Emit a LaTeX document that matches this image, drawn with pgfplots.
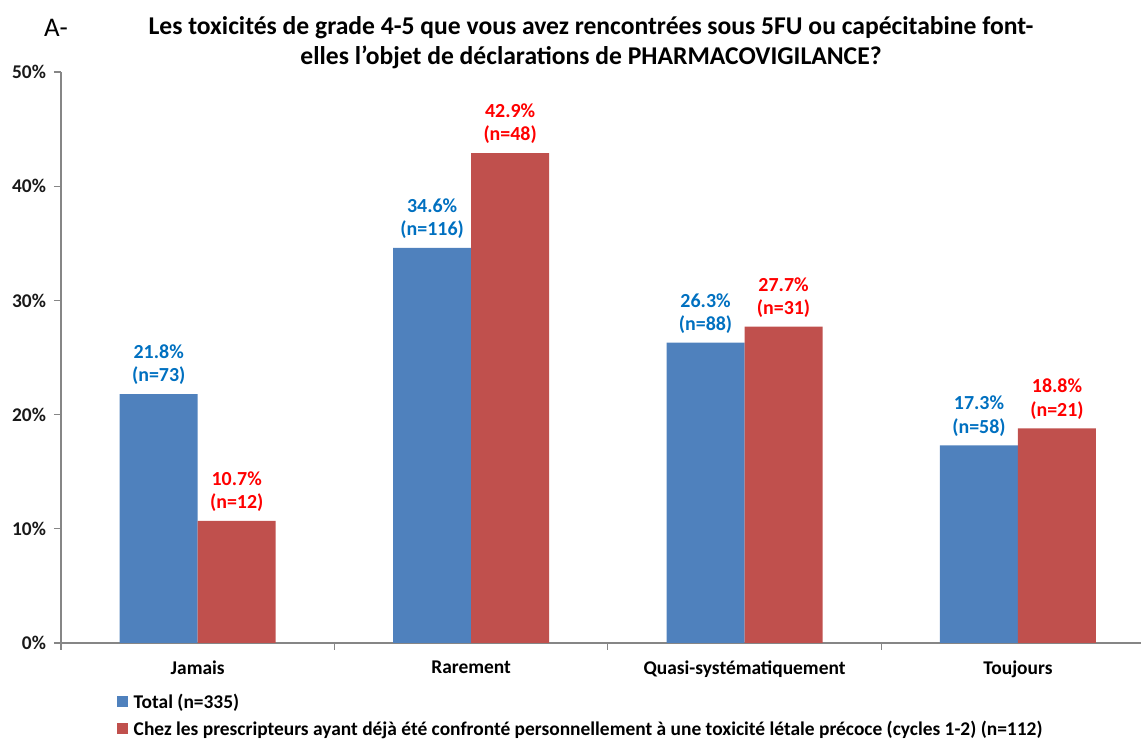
\documentclass[border=0pt]{standalone}
\usepackage{fontspec}
\setmainfont{Carlito}
\usepackage{pgfplots}
\pgfplotsset{compat=1.18}
\usetikzlibrary{calc}
\definecolor{barblue}{HTML}{4F81BD}
\definecolor{barred}{HTML}{C0504D}
\definecolor{lblblue}{HTML}{0070C0}
\definecolor{lblred}{HTML}{FF0000}
\definecolor{axgray}{HTML}{868686}
\begin{document}
\begin{tikzpicture}
\begin{axis}[
  scale only axis,
  width=1080bp, height=571bp,
  xmin=-0.5, xmax=3.45, ymin=0, ymax=50,
  axis x line*=bottom, axis y line*=left,
  axis line style={draw=axgray, line width=2.4bp, -},
  tick style={draw=axgray, line width=1.2bp},
  tick align=outside, major tick length=7bp,
  ytick={0,10,20,30,40,50},
  yticklabels={0\%,10\%,20\%,30\%,40\%,50\%},
  yticklabel style={font=\bfseries\fontsize{19.5}{19.5}\selectfont, text=black!90, xshift=-4.5bp},
  xtick={-0.5,0.5,1.5,2.5},
  xticklabels={},
  extra x ticks={0,1,2,3},
  extra x tick labels={Jamais,Rarement,Quasi-systématiquement,Toujours},
  extra x tick style={major tick length=0pt, xticklabel style={font=\bfseries\fontsize{19.5}{19.5}\selectfont, yshift=-14.5bp}},
  /pgf/number format/assume math mode=true,
  ybar=0pt, bar width=78bp,
  clip=false,
  legend style={at={(axis description cs:0.0519,-0.086)}, anchor=north west, draw=none, fill=none,
    font=\bfseries\fontsize{19.5}{19.5}\selectfont, inner sep=0pt, row sep=8bp,
    nodes={inner sep=1.5bp}},
  legend cell align=left,
]
\addplot[fill=barblue, draw=none,
  legend image code/.code={\fill[barblue] (0bp,-5.5bp) rectangle (11bp,5.5bp);},
  nodes near coords, point meta=explicit symbolic,
  every node near coord/.append style={align=center, anchor=south, text=lblblue,
    font=\bfseries\fontsize{20}{23.5}\selectfont, inner sep=0pt, yshift=9bp}]
  coordinates {(0,21.8) [{21.8\%\\(n=73)}] (1,34.6) [{34.6\%\\(n=116)}] (2,26.3) [{26.3\%\\(n=88)}] (3,17.3) [{17.3\%\\(n=58)}]};
\addplot[fill=barred, draw=none,
  legend image code/.code={\fill[barred] (0bp,-5.5bp) rectangle (11bp,5.5bp);},
  nodes near coords, point meta=explicit symbolic,
  every node near coord/.append style={align=center, anchor=south, text=lblred,
    font=\bfseries\fontsize{20}{23.5}\selectfont, inner sep=0pt, yshift=9bp}]
  coordinates {(0,10.7) [{10.7\%\\(n=12)}] (1,42.9) [{42.9\%\\(n=48)}] (2,27.7) [{27.7\%\\(n=31)}] (3,18.8) [{18.8\%\\(n=21)}]};
\legend{\hspace{4bp}Total (n=335), \hspace{4bp}Chez les prescripteurs ayant déjà été confronté personnellement à une toxicité létale précoce (cycles 1-2) (n=112)}
\coordinate (O) at (axis cs:-0.5,0);
\end{axis}
\begin{scope}[shift={(O)}, x=1bp, y=1bp, shift={(-61,-97)}]
\node[font=\fontsize{27}{30}\selectfont, anchor=base west, inner sep=0pt] at (44,703) {A-};
\node[font=\bfseries\fontsize{25.7}{30}\selectfont, align=center, anchor=north, inner sep=0pt] at (591,723.5) {Les toxicités de grade 4-5 que vous avez rencontrées sous 5FU ou capécitabine font-\\elles l’objet de déclarations de PHARMACOVIGILANCE?};
\pgfresetboundingbox
\useasboundingbox (0,0) rectangle (1141,740);
\end{scope}
\end{tikzpicture}
\end{document}
